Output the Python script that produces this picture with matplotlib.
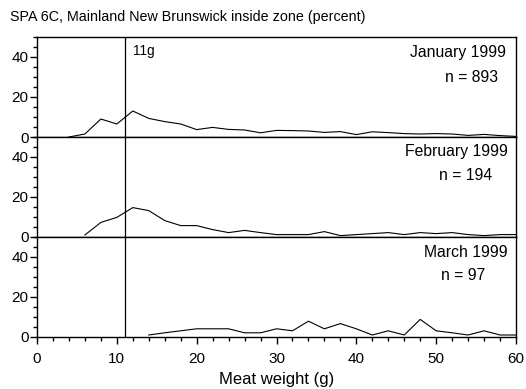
import numpy as np
import matplotlib
matplotlib.use("Agg")
import matplotlib.pyplot as plt
from matplotlib.ticker import MultipleLocator

plt.rcParams['font.family'] = ['Liberation Sans', 'DejaVu Sans']

# meat weight bins (g) and percent of scallops in each bin
jan_x = list(range(4, 61, 2))
jan_pct = [0, 1.5, 9, 6.5, 13, 9.3, 7.7, 6.5, 3.7, 4.8, 3.8, 3.5, 2.1, 3.3, 3.2,
           3.0, 2.3, 2.7, 1.2, 2.6, 2.2, 1.7, 1.5, 1.7, 1.5, 0.8, 1.3, 0.7, 0.3]

feb_x = list(range(6, 61, 2))
feb_pct = [1, 7.3, 9.8, 14.7, 13.2, 8.2, 5.7, 5.7, 3.7, 2.2, 3.3, 2.2, 1.2, 1.2,
           1.2, 2.7, 0.7, 1.2, 1.7, 2.2, 1.2, 2.2, 1.7, 2.2, 1.2, 0.7, 1.2, 1.2]

mar_x = list(range(14, 61, 2))
mar_pct = [1, 2.1, 3.1, 4.1, 4.1, 4.1, 2.1, 2.1, 4.1, 3.1, 7.9, 4.1, 6.7, 4.1,
           1, 3.1, 1, 8.8, 3.1, 2.1, 1, 3.1, 1, 1]

months = ["January 1999", "February 1999", "March 1999"]
counts = [893, 194, 97]
cutoff = 11

fig = plt.figure(figsize=(5.26, 3.89), dpi=100)
left, width, h = 37 / 526, 479 / 526, 100 / 389
bottoms = [1 - 137 / 389, 1 - 237 / 389, 1 - 337 / 389]

series = [(jan_x, jan_pct), (feb_x, feb_pct), (mar_x, mar_pct)]
# label positions in data coords (month, n)
lab_pos = [((58.8, 42.2), (57.7, 30.0)),
           ((59.0, 42.6), (57.0, 30.5)),
           ((59.0, 42.3), (56.2, 30.5))]

for i, (xs, ys) in enumerate(series):
    ax = fig.add_axes([left, bottoms[i], width, h])
    ax.plot(xs, ys, color="black", lw=0.8)
    ax.axvline(cutoff, color="black", lw=0.9)
    ax.set_xlim(0, 60)
    ax.set_ylim(0, 50)
    ax.yaxis.set_major_locator(MultipleLocator(20))
    ax.yaxis.set_minor_locator(MultipleLocator(5))
    ax.tick_params(axis="y", which="major", length=5, width=1, labelsize=11, pad=1)
    ax.tick_params(axis="y", which="minor", length=3, width=1)
    ax.set_yticks([0, 20, 40])
    for s in ax.spines.values():
        s.set_linewidth(1)
    (mx, my), (nx, ny) = lab_pos[i]
    ax.text(mx, my, months[i], ha="right", va="center", fontsize=11.3)
    ax.text(nx, ny, "n = %d" % counts[i], ha="right", va="center", fontsize=11.3)
    if i == 0:
        ax.text(12.0, 43, "%dg" % cutoff, ha="left", va="center", fontsize=9.8)
    if i < 2:
        ax.tick_params(axis="x", which="both", bottom=False, labelbottom=False)
    else:
        ax.xaxis.set_major_locator(MultipleLocator(10))
        ax.xaxis.set_minor_locator(MultipleLocator(2))
        ax.tick_params(axis="x", which="major", length=5, width=1, labelsize=11, pad=6)
        ax.tick_params(axis="x", which="minor", length=3, width=1)
        ax.set_xlabel("Meat weight (g)", fontsize=12, labelpad=4)

fig.text(10 / 526, 1 - 17 / 389, "SPA 6C, Mainland New Brunswick inside zone (percent)",
         ha="left", va="center", fontsize=10.3)

fig.savefig("out.png", dpi=100)
